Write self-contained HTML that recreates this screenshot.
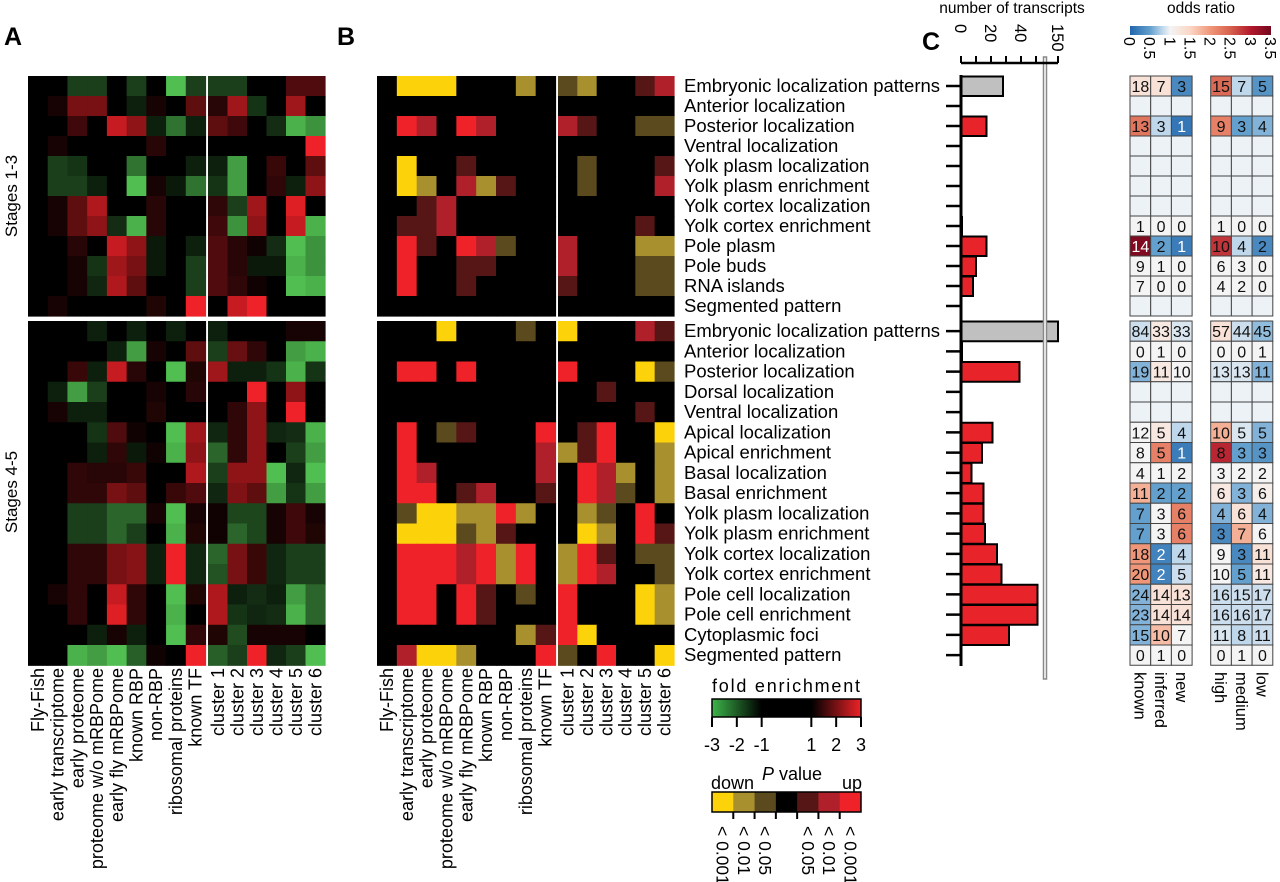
<!DOCTYPE html>
<html><head><meta charset="utf-8"><style>
body{margin:0;background:#fff;}
svg{display:block;font-family:"Liberation Sans",Arial,sans-serif;}
</style></head><body>
<svg id="fig" width="1280" height="882" viewBox="0 0 1280 882" xmlns="http://www.w3.org/2000/svg">
<g id="static">
<text x="4" y="45" font-size="25" font-weight="bold">A</text>
<text x="337" y="45" font-size="25" font-weight="bold">B</text>
<text x="922" y="50" font-size="25" font-weight="bold">C</text>
<text x="1012" y="13" font-size="15.5" text-anchor="middle">number of transcripts</text>
<text x="1201" y="13" font-size="15.5" text-anchor="middle">odds ratio</text>
<text transform="translate(17,196) rotate(-90)" font-size="17" text-anchor="middle">Stages 1-3</text>
<text transform="translate(17,492) rotate(-90)" font-size="17" text-anchor="middle">Stages 4-5</text>
</g>
<g id="gA"></g>
<g id="gB"></g>
<g id="gC"></g>
<g id="gO"></g>
<g id="gL"></g>
</svg>
<script>
const colLabels=["Fly-Fish","early transcriptome","early proteome","proteome w/o mRBPome","early fly mRBPome","known RBP","non-RBP","ribosomal proteins","known TF","cluster 1","cluster 2","cluster 3","cluster 4","cluster 5","cluster 6"];
const rowLabels=["Embryonic localization patterns","Anterior localization","Posterior localization","Ventral localization","Yolk plasm localization","Yolk plasm enrichment","Yolk cortex localization","Yolk cortex enrichment","Pole plasm","Pole buds","RNA islands","Segmented pattern",
"Embryonic localization patterns","Anterior localization","Posterior localization","Dorsal localization","Ventral localization","Apical localization","Apical enrichment","Basal localization","Basal enrichment","Yolk plasm localization","Yolk plasm enrichment","Yolk cortex localization","Yolk cortex enrichment","Pole cell localization","Pole cell enrichment","Cytoplasmic foci","Segmented pattern"];
const foldA=[
[0,0,-1,-1,0,-1,0,-3,-1,-1,-1,0,0,1,1],
[0,0.3,1.5,1.5,0,-0.5,0.3,0,1.2,0.5,2,-0.8,0,2,0],
[0,0,0.8,0,2.5,1.8,-0.5,-1.8,-0.5,1.2,0.8,0,-0.7,-2.8,-2.3],
[0,0.3,0,0,0,0,0.5,0,0,0,0,0,0,0,3],
[0,-1,-0.8,0,0,-1.8,0,0,-0.5,-0.5,-2.5,0,0.7,0,1.2],
[0,-1,-1,-0.5,0,-3,0.3,-0.4,-1.8,-0.8,-2.5,0,0.6,-0.5,1.8],
[0,0.3,1.2,2.2,0,0,0.5,0,0,0.6,-1,2,0,2.8,0],
[0,0.3,1.2,1.8,-0.7,-2.8,0.5,0,0,0.8,-2.3,1.8,0,2.5,-2.8],
[0,0,0.5,0,2.5,1.8,-0.4,0,-0.5,1,0.5,0.2,-0.7,-3,-2.3],
[0,0,0.3,-0.8,2,1.5,-0.4,0,-1,1,0.5,-0.4,-0.4,-2.8,-2.3],
[0,0,0.3,-0.6,2.2,1.2,0,0,-1,1,0.6,0.2,0,-3,-2.8],
[0,0.3,0,0,0,0,0.4,0,3,0,2.5,3,0,0,0],
[0,0,0,-0.5,0,-0.5,0,-0.5,0,-0.5,0,0,0,0.3,0.3],
[0,0,0,0,-0.5,-2.5,0.3,0,1.2,-1,1.3,0.6,0,-2.5,-2.8],
[0,0,0.7,-0.5,2.5,0.5,0,-3,0.4,2,-0.5,-0.5,-0.8,-2.8,-0.8],
[0,-0.5,-2.5,-1,0,0,0.3,0,0.5,0,0,3,0,1.8,0],
[0,0.3,-0.5,-0.5,0,0,0.4,0,0,0,0.6,1.8,0,3,0],
[0,0,0,-0.8,1,0.2,0,-3,2,-0.6,0.6,1.8,-0.6,-0.7,-2.8],
[0,0,0,-0.5,0.6,-0.4,0.2,-2.8,1.8,-1.6,0.6,1.8,0,-1,-2.5],
[0,0,0.6,0.5,0.5,0.7,0,0,2.2,-1,1.8,1.8,-3,-0.6,-3],
[0,0,0.6,0.6,1.5,1.2,0,0.7,1,-0.6,1.6,1.2,-2.5,-0.8,-2.5],
[0,0,-1,-1,-1.6,-1.6,0.3,-3,0.3,0.2,-1.1,-1.1,0.3,0.8,0.3],
[0,0,-1,-1,-1.6,-1,0,-2.8,0.4,0.2,-1.6,-1.1,0.3,0.8,0.4],
[0,0,0.6,0.6,1.5,1.7,-0.5,3,-0.6,-1.6,1.5,0.7,-0.6,-1,-1],
[0,0,0.6,0.6,1.5,1.7,-0.5,3,-0.6,-1.3,1.5,0.7,-0.6,-1,-1],
[0,0.3,0.6,0,2.5,0.6,0,-3,0.4,2.2,-0.5,-0.7,-0.5,-2.5,-1.6],
[0,0,0.6,0,2.8,0.6,0,-2.8,0,2.2,-0.8,-0.6,-0.7,-2.8,-1.6],
[0,0,0,-0.5,0.3,-0.5,0,-3,0.6,0.4,-1.2,0.3,0.3,0.3,0],
[0,0,-2.8,-2.5,-3,-1.5,0.2,0,3,-1.5,-1,3,-0.6,-1,-3]];
const pB=[
[0,-3,-3,-3,0,0,0,-2,0,-1,-2,0,0,1,2],
[0,0,0,0,0,0,0,0,0,0,0,0,0,0,0],
[0,3,2,0,3,2,0,0,0,2,1,0,0,-1,-1],
[0,0,0,0,0,0,0,0,0,0,0,0,0,0,0],
[0,-3,0,0,1,0,0,0,0,0,-1,0,0,0,1],
[0,-3,-2,0,2,-2,1,0,0,0,-1,0,0,0,2],
[0,0,1,2,0,0,0,0,0,0,0,0,0,0,0],
[0,1,1,2,0,0,0,0,0,0,0,0,0,1,0],
[0,3,1,0,3,2,-1,0,0,2,0,0,0,-2,-2],
[0,3,0,0,1,1,0,0,0,2,0,0,0,-1,-1],
[0,3,0,0,1,0,0,0,0,1,0,0,0,-1,-1],
[0,0,0,0,0,0,0,0,0,0,0,0,0,0,0],
[0,0,0,-3,0,0,0,-1,0,-3,0,0,0,2,1],
[0,0,0,0,0,0,0,0,0,0,0,0,0,0,0],
[0,3,3,0,3,0,0,0,0,3,0,0,0,-3,-1],
[0,0,0,0,0,0,0,0,0,0,0,1,0,0,0],
[0,0,0,0,0,0,0,0,0,0,0,0,0,1,0],
[0,3,0,-1,1,0,0,0,3,0,1,3,0,0,-3],
[0,3,0,0,0,0,0,0,2,-2,1,3,0,0,-2],
[0,3,2,0,0,0,0,0,2,0,3,2,-2,0,-2],
[0,3,3,0,1,2,0,0,1,0,3,2,-1,0,-2],
[0,-1,-3,-3,-2,-2,3,-2,0,0,-2,-1,0,3,0],
[0,-3,-3,-3,-1,-2,1,0,0,0,-3,-2,0,3,1],
[0,3,3,3,2,3,-2,3,0,-2,3,1,0,-1,-1],
[0,3,3,3,2,3,-2,3,0,-2,3,2,0,0,-1],
[0,3,3,0,3,1,0,-1,0,3,0,0,0,-3,-2],
[0,3,3,0,3,1,0,0,0,3,0,0,0,-3,-2],
[0,0,0,0,0,0,0,-2,1,3,-3,0,0,0,0],
[0,2,-3,-3,-2,0,0,0,3,-1,0,3,0,0,-3]];
const barValues=[28,0,17,0,0,0,0,1,17,10,8,0,150,1,39,0,0,21,14,7,15,15,16,24,27,51,51,32,0];
const barTicks=[0,20,40,150];
const countsKIN=[[18,7,3],null,[13,3,1],null,null,null,null,[1,0,0],[14,2,1],[9,1,0],[7,0,0],null,[84,33,33],[0,1,0],[19,11,10],null,null,[12,5,4],[8,5,1],[4,1,2],[11,2,2],[7,3,6],[7,3,6],[18,2,4],[20,2,5],[24,14,13],[23,14,14],[15,10,7],[0,1,0]];
const oddsKIN=[[1.3,1.3,0.3],null,[2.3,0.8,0.15],null,null,null,null,[1,1,1],[3.4,0.5,0.2],[1,1,1],[1,1,1],null,[0.85,1.2,0.9],[1,1,1],[0.6,1.2,1],null,null,[1,1.2,0.8],[1,2.2,0.2],[1,1,1],[1.8,0.5,0.5],[0.5,1,2.2],[0.5,1,2.2],[2,0.25,0.8],[2,0.25,0.85],[0.6,1.3,1.3],[0.6,1.3,1.3],[0.6,1.7,1],[1,1,1]];
const countsHML=[[15,7,5],null,[9,3,4],null,null,null,null,[1,0,0],[10,4,2],[6,3,0],[4,2,0],null,[57,44,45],[0,0,1],[13,13,11],null,null,[10,5,5],[8,3,3],[3,2,2],[6,3,6],[4,6,4],[3,7,6],[9,3,11],[10,5,11],[16,15,17],[16,16,17],[11,8,11],[0,1,0]];
const oddsHML=[[2.4,0.8,0.4],null,[2.2,0.5,0.6],null,null,null,null,[1,1,1],[2.8,0.8,0.3],[1,1,1],[1,1,1],null,[1.3,0.85,0.65],[1,1,1],[0.9,0.9,0.6],null,null,[1.8,0.9,0.6],[2.9,0.5,0.4],[1,1,1],[1.2,0.6,1.1],[0.6,1.3,0.6],[0.3,1.8,1],[1,0.3,1.3],[1,0.5,1.2],[0.85,0.85,0.85],[0.85,0.85,0.85],[0.9,0.8,0.85],[1,1,1]];
const oddsTicks=["0","0.5","1","1.5","2","2.5","3","3.5"];
const foldTicks=[-3,-2,-1,1,2,3];
const pTicks=["< 0.001","< 0.01","< 0.05","< 0.05","< 0.01","< 0.001"];

const NS="http://www.w3.org/2000/svg";
function mk(tag,attrs,parent){const e=document.createElementNS(NS,tag);for(const k in attrs)e.setAttribute(k,attrs[k]);parent.appendChild(e);return e;}
function rowTop(i){return i<12?76+20*i:321+20.25*(i-12);}
function rowH(i){return i<12?20:20.25;}
function rowMid(i){return rowTop(i)+rowH(i)/2;}
function lerp(a,b,t){return a+(b-a)*t;}
function rgb(c){return "rgb("+c.map(Math.round).join(",")+")";}
function foldColor(v){const t=Math.min(1,Math.abs(v)/3);if(v>=0)return rgb([lerp(0,238,t),lerp(0,34,t),lerp(0,40,t)]);return rgb([lerp(0,80,t),lerp(0,190,t),lerp(0,80,t)]);}
const pColors={"-3":"#fcd20a","-2":"#a8902f","-1":"#5a4a1e","0":"#000000","1":"#561616","2":"#b0202a","3":"#ee2228"};
const A={l:28,d:205.5,s:208,r:325};
const B={l:377,d:555.5,s:558,r:674};
function cellX(P,i){const wl=(P.d-P.l)/9, wr=(P.r-P.s)/6;return i<9?[P.l+wl*i,wl]:[P.s+wr*(i-9),wr];}

const gA=document.getElementById('gA');
foldA.forEach((row,ri)=>row.forEach((v,ci)=>{const [x,w]=cellX(A,ci);
const r=mk('rect',{x:x,y:rowTop(ri),width:w+0.6,height:rowH(ri)+0.6,fill:foldColor(v)},gA);

}));
const gB=document.getElementById('gB');
pB.forEach((row,ri)=>row.forEach((v,ci)=>{const [x,w]=cellX(B,ci);
const r=mk('rect',{x:x,y:rowTop(ri),width:w+0.6,height:rowH(ri)+0.6,fill:pColors[String(v)]},gB);

}));
[[A,gA],[B,gB]].forEach(([P,g])=>{colLabels.forEach((t,ci)=>{const [x,w]=cellX(P,ci);
const tx=mk('text',{transform:"translate("+(x+w/2+6)+",668) rotate(-90)","font-size":"18","text-anchor":"end"},g);tx.textContent=t;

});});
rowLabels.forEach((t,ri)=>{const tx=mk('text',{x:684,y:rowMid(ri)+6,"font-size":"18.5"},gB);tx.textContent=t;

});

// Bar chart
const gC=document.getElementById('gC');
const x0=961;
function xBar(v){if(v<=56)return x0+1.5*v;return 1045+(v-56)/(150-56)*13;}
barValues.forEach((v,ri)=>{if(v<=0)return;const w=Math.max(1.5,xBar(v)-x0);
const r=mk('rect',{x:x0,y:rowTop(ri)+0.5,width:w,height:rowH(ri)-0.5,fill:(ri===0||ri===12)?"#c0c0c0":"#e8242a",stroke:"#000","stroke-width":v<2?1:2},gC);

});
const gl=mk('rect',{x:1043.5,y:57,width:3,height:622,fill:"#fff",stroke:"#888","stroke-width":1.5},gC);


const ax=mk('line',{x1:x0,y1:75,x2:x0,y2:666,stroke:"#000","stroke-width":3},gC);


rowLabels.forEach((t,ri)=>{const l=mk('line',{x1:946,x2:x0,y1:rowMid(ri),y2:rowMid(ri),stroke:"#000","stroke-width":2.5},gC);

});
const tx_ax=mk('line',{x1:x0,y1:63,x2:xBar(150),y2:63,stroke:"#000","stroke-width":2.5},gC);


[0,10,20,30,40,50,150].forEach(v=>{const l=mk('line',{x1:xBar(v),x2:xBar(v),y1:56,y2:63,stroke:"#000","stroke-width":2},gC);

});
barTicks.forEach(v=>{const t=mk('text',{transform:"translate("+(xBar(v)-6)+",24) rotate(90)","font-size":"16.5"},gC);t.textContent=String(v);

});

// Odds tables
const gO=document.getElementById('gO');
const oStops=[[0,[33,102,172]],[0.5,[100,160,205]],[0.8,[190,215,235]],[1,[244,244,244]],[1.5,[251,214,196]],[2,[240,150,120]],[2.5,[214,96,77]],[3,[178,24,43]],[3.5,[115,8,30]]];
function oddsColor(v){if(v<=0)return rgb(oStops[0][1]);for(let i=1;i<oStops.length;i++){if(v<=oStops[i][0]){const a=oStops[i-1],b=oStops[i];const t=(v-a[0])/(b[0]-a[0]);return rgb([0,1,2].map(k=>lerp(a[1][k],b[1][k],t)));}}return rgb(oStops[oStops.length-1][1]);}
function drawTable(xl,counts,odds,heads){const cw=20.7;
rowLabels.forEach((t,ri)=>{for(let c=0;c<3;c++){const o=odds[ri];const fill=o?oddsColor(o[c]):"#edf2f7";
const r=mk('rect',{x:xl+cw*c,y:rowTop(ri),width:cw,height:rowH(ri),fill:fill,stroke:"#444","stroke-width":1},gO);


if(counts[ri]){const tc=mk('text',{x:xl+cw*c+cw/2,y:rowMid(ri)+6,"font-size":"16","text-anchor":"middle",fill:(o[c]<0.3||o[c]>3)?"#fff":"#111"},gO);tc.textContent=String(counts[ri][c]);

}}});
heads.forEach((h,c)=>{const t=mk('text',{transform:"translate("+(xl+cw*c+cw/2-6)+",672) rotate(90)","font-size":"16.5"},gO);t.textContent=h;

});}
drawTable(1130,countsKIN,oddsKIN,["known","inferred","new"]);
drawTable(1210.7,countsHML,oddsHML,["high","medium","low"]);
const defs=mk('defs',{},document.getElementById('fig'));
const lg=mk('linearGradient',{id:"og",x1:"0",x2:"1",y1:"0",y2:"0"},defs);
oStops.forEach(s=>mk('stop',{offset:s[0]/3.5,"stop-color":rgb(s[1])},lg));
const cb=mk('rect',{x:1130,y:26,width:141,height:9,fill:"url(#og)"},gO);


oddsTicks.forEach((t,i)=>{const tx=mk('text',{transform:"translate("+(1130+i*141/7-6)+",37) rotate(90)","font-size":"16"},gO);tx.textContent=t;

});

// Legends
const gL=document.getElementById('gL');
const fg=mk('linearGradient',{id:"fg",x1:"0",x2:"1",y1:"0",y2:"0"},defs);
[[0,"#3cb54a"],[0.333,"#000"],[0.667,"#000"],[1,"#ee2228"]].forEach(s=>mk('stop',{offset:s[0],"stop-color":s[1]},fg));
const t1=mk('text',{x:712,y:692,"font-size":"18",textLength:"148",lengthAdjust:"spacing"},gL);t1.textContent="fold enrichment";


const fb=mk('rect',{x:712,y:699,width:149,height:18,fill:"url(#fg)",stroke:"#000","stroke-width":1.5},gL);


function fx(v){return 712+(v+3)/6*149;}
foldTicks.forEach(v=>{const l=mk('line',{x1:fx(v),x2:fx(v),y1:717,y2:727,stroke:"#000","stroke-width":2},gL);


const t=mk('text',{x:fx(v),y:751,"font-size":"18","text-anchor":"middle"},gL);t.textContent=String(v);

});
const pt=mk('text',{x:792,y:780,"font-size":"18","text-anchor":"middle"},gL);pt.innerHTML='<tspan font-style="italic">P</tspan> value';


const dn=mk('text',{x:711,y:789,"font-size":"18"},gL);dn.textContent="down";


const up=mk('text',{x:862,y:789,"font-size":"18","text-anchor":"end"},gL);up.textContent="up";


const pw=149/7;
[-3,-2,-1,0,1,2,3].forEach((v,i)=>{const r=mk('rect',{x:712+pw*i,y:792,width:pw+0.5,height:20,fill:pColors[String(v)]},gL);

});
const pbo=mk('rect',{x:712,y:792,width:149,height:20,fill:"none",stroke:"#000","stroke-width":1.5},gL);


[1,2,3,5,6,7].forEach((b,i)=>{const xt=(b<=3)?712+pw*b:712+pw*(b-1);
const l=mk('line',{x1:xt,x2:xt,y1:812,y2:819,stroke:"#000","stroke-width":2},gL);


const xc=712+pw*(b-0.5);
const t=mk('text',{transform:"translate("+(xc-6)+",826) rotate(90)","font-size":"17.5"},gL);t.textContent=pTicks[i];

});
</script>
</body></html>
